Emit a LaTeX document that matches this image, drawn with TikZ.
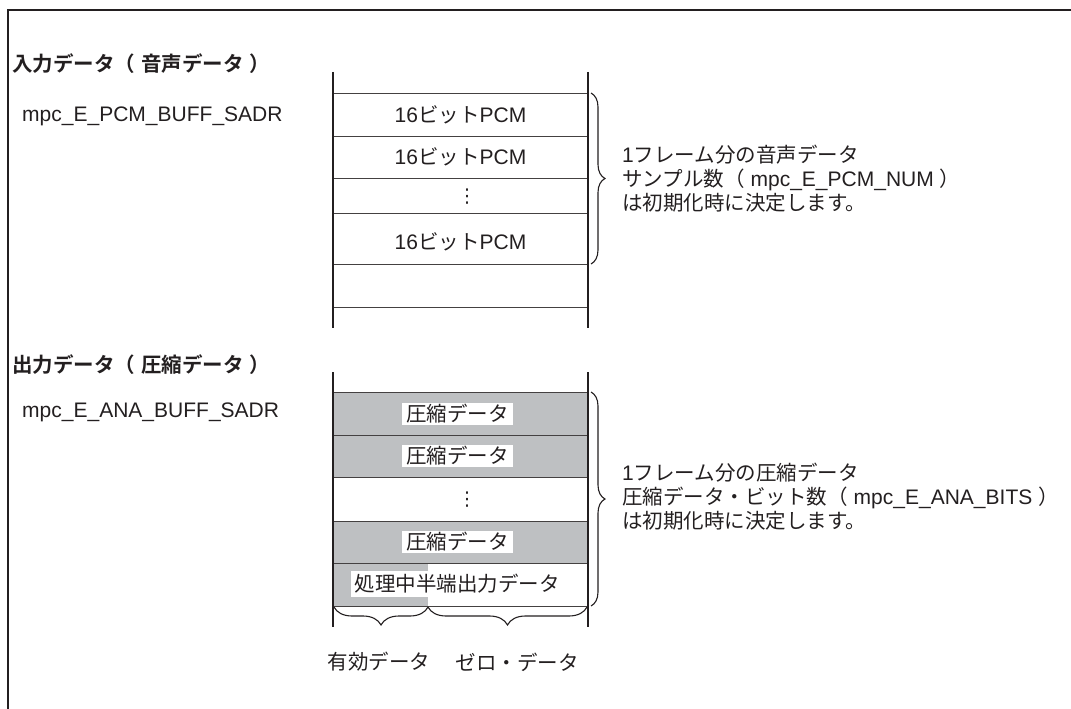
\documentclass[tikz,border=0pt]{standalone}
\usepackage{fontspec}
\setmainfont{Liberation Sans}[Scale=1.025]
\newfontfamily\jp{Noto Sans CJK JP}[BoldFont={Noto Sans CJK JP Bold}]
\newfontfamily\dejavu{DejaVu Sans}
\usetikzlibrary{decorations.pathreplacing}
\newcommand{\J}[1]{{\jp #1}}
\definecolor{ink}{RGB}{35,31,32}
\definecolor{greyfill}{RGB}{190,192,194}
\begin{document}
\begin{tikzpicture}[x=1pt,y=-1pt,
  every node/.style={font=\fontsize{20.5}{24}\selectfont, text=ink, inner sep=0pt},
  frameline/.style={line width=2.5pt, draw=ink},
  colline/.style={line width=2pt, draw=ink},
  rowline/.style={line width=1pt, draw=ink!85},
  brc/.style={draw=ink, line width=1.1pt, decorate, decoration={brace, amplitude=#1}},
  wbox/.style={fill=white, inner xsep=4pt, inner ysep=0pt, minimum height=22pt},
  rtext/.style={anchor=west, align=left},
  vdotsnode/.style={font=\fontsize{19}{19}\dejavu}
]
\useasboundingbox (0,0) rectangle (1071,709);
% frame
\coordinate (fb) at (8,709);
\coordinate (fc) at (8,10);
\coordinate (fr) at (1071,10);
\draw[frameline] (fb) -- (fc) -- (fr);

% ---------- input section ----------
\node[anchor=west] (h1) at (12,64) {\J{\bfseries 入力データ（\hspace{6pt}音声データ\hspace{6pt}）}};
\node[anchor=west] (a1) at (22,116) {mpc\_E\_PCM\_BUFF\_SADR};
\coordinate (t1l) at (333,72);  \coordinate (b1l) at (333,328);
\coordinate (t1r) at (588,72);  \coordinate (b1r) at (588,328);
\foreach \y in {93,136,178,213,264,307} \draw[rowline] (333,\y) -- (588,\y);
\draw[colline] (t1l) -- (b1l);
\draw[colline] (t1r) -- (b1r);
\node (r1) at (460.5,115) {16\J{ビット}PCM};
\node (r2) at (460.5,157) {16\J{ビット}PCM};
\node[vdotsnode] (r3) at (467,197) {⋮};
\node (r4) at (460.5,242) {16\J{ビット}PCM};
\coordinate (bt1) at (591,93);
\coordinate (bb1) at (591,264);
\draw[brc=14pt] (bt1) -- (bb1);
\node[rtext] (d1) at (622,179) {1\J{フレーム分の音声データ}\\\J{サンプル数（}\hspace{6pt}mpc\_E\_PCM\_NUM\hspace{6pt}\J{）}\\\J{は初期化時に決定します。}};

% ---------- output section ----------
\node[anchor=west] (h2) at (12,365) {\J{\bfseries 出力データ（\hspace{6pt}圧縮データ\hspace{6pt}）}};
\node[anchor=west] (a2) at (22,412) {mpc\_E\_ANA\_BUFF\_SADR};
\fill[greyfill] (333,392) rectangle (588,477);
\fill[greyfill] (333,521) rectangle (588,563);
\fill[greyfill] (333,563) rectangle (428,606);
\coordinate (t2l) at (333,372);  \coordinate (b2l) at (333,627);
\coordinate (t2r) at (588,372);  \coordinate (b2r) at (588,627);
\foreach \y in {392,435,477,521,563,606} \draw[rowline] (333,\y) -- (588,\y);
\draw[colline] (t2l) -- (b2l);
\draw[colline] (t2r) -- (b2r);
\node[wbox] (c1) at (457.5,413.5) {\J{圧縮データ}};
\node[wbox] (c2) at (457.5,456) {\J{圧縮データ}};
\node[vdotsnode] (c3) at (467,500) {⋮};
\node[wbox] (c4) at (457.5,542) {\J{圧縮データ}};
\node[wbox, minimum height=26pt] (c5) at (457,584) {\J{処理中半端出力データ}};
\coordinate (bt2) at (591,392);
\coordinate (bb2) at (591,606);
\draw[brc=14pt] (bt2) -- (bb2);
\node[rtext] (d2) at (622,497) {1\J{フレーム分の圧縮データ}\\\J{圧縮データ・ビット数（}\hspace{6pt}mpc\_E\_ANA\_BITS\hspace{6pt}\J{）}\\\J{は初期化時に決定します。}};

% bottom braces
\coordinate (u0) at (334,607);
\coordinate (u1) at (428,607);
\coordinate (u2) at (587,607);
\draw[brc=18pt] (u1) -- (u0);
\draw[brc=18pt] (u2) -- (u1);
\node (e1) at (379,662) {\J{有効データ}};
\node (e2) at (517,662) {\J{ゼロ・データ}};
\end{tikzpicture}
\end{document}
